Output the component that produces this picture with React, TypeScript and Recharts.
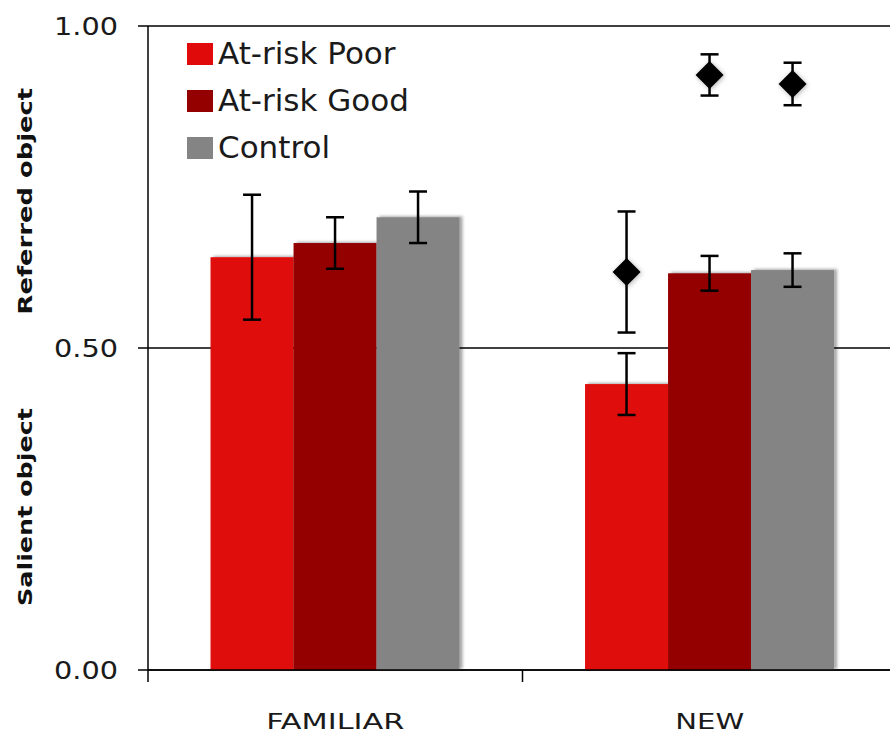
import React from 'react';
import { BarChart, Bar, XAxis, YAxis, CartesianGrid, ErrorBar, Legend } from 'recharts';

const groups = ['FAMILIAR', 'NEW'];
const groupLabelWidths = [141, 69];
const seriesNames = ['At-risk Poor', 'At-risk Good', 'Control'];

const poor = [0.641, 0.444];
const poorErr = [0.097, 0.048];
const good = [0.663, 0.616];
const goodErr = [0.04, 0.027];
const control = [0.703, 0.621];
const controlErr = [0.04, 0.026];

// black diamonds, only measured for NEW
const poorDia = [null, 0.618];
const poorDiaErr = [null, 0.094];
const goodDia = [null, 0.924];
const goodDiaErr = [null, 0.032];
const controlDia = [null, 0.91];
const controlDiaErr = [null, 0.033];

const yTicks = [0, 0.5, 1];

const COLORS = { poor: '#e00a0a', good: '#940000', control: '#848484' };
const FONT = '"DejaVu Sans", Verdana, sans-serif';

const data = groups.map((g, i) => ({
  group: g,
  poor: poor[i],
  poorErr: poorErr[i],
  good: good[i],
  goodErr: goodErr[i],
  control: control[i],
  controlErr: controlErr[i],
  poorDia: poorDia[i],
  poorDiaErr: poorDiaErr[i],
  goodDia: goodDia[i],
  goodDiaErr: goodDiaErr[i],
  controlDia: controlDia[i],
  controlDiaErr: controlDiaErr[i],
}));

const ShadowBar = (props: any) => {
  const { x, y, width, height, fill } = props;
  if (!height || height <= 0) return <g />;
  return <rect x={x} y={y} width={width} height={height} fill={fill} filter="url(#barShadow)" />;
};

const diamondShape = (key: string) => (props: any) => {
  const { x, y, width, payload } = props;
  if (payload == null || payload[key] == null) return <g />;
  const cx = x + width / 2;
  const r = 14;
  return (
    <polygon
      points={`${cx},${y - r} ${cx + r},${y} ${cx},${y + r} ${cx - r},${y}`}
      fill="#000"
      filter="url(#dotShadow)"
    />
  );
};

// category label plus tick marks on the category boundaries
const CategoryTick = (props: any) => {
  const { x, y, payload, index } = props;
  const idx = groups.indexOf(payload.value);
  const half = payload.offset || 0;
  const natural = 22 * (payload.value === 'NEW' ? 2.37 : 4.65);
  const sx = groupLabelWidths[idx] / natural;
  return (
    <g>
      <line x1={x - half} x2={x - half} y1={y} y2={y + 12} stroke="#000" strokeWidth={1.5} />
      {index === groups.length - 1 && (
        <line x1={x + half} x2={x + half} y1={y} y2={y + 12} stroke="#000" strokeWidth={1.5} />
      )}
      <text
        transform={`translate(${x}, ${y + 59}) scale(${sx}, 1)`}
        textAnchor="middle"
        fontFamily={FONT}
        fontSize={22}
        fill="#1a1a1a"
      >
        {payload.value}
      </text>
    </g>
  );
};

const ValueTick = (props: any) => {
  const { x, y, payload } = props;
  return (
    <text
      transform={`translate(${x}, ${y + 9}) scale(1.15, 1)`}
      textAnchor="end"
      fontFamily={FONT}
      fontSize={25}
      fill="#1a1a1a"
    >
      {Number(payload.value).toFixed(2)}
    </text>
  );
};

const AxisTitles = (props: any) => {
  const vb = props.viewBox || {};
  const top = vb.y ?? 26;
  const h = vb.height ?? 644;
  const y1 = top + h * (1 - 0.728);
  const y2 = top + h * (1 - 0.253);
  const common = {
    textAnchor: 'middle' as const,
    fontFamily: FONT,
    fontWeight: 700,
    fontSize: 20,
    fill: '#111',
  };
  return (
    <g>
      <text {...common} transform={`translate(32, ${y1}) rotate(-90) scale(1.29, 1)`}>
        Referred object
      </text>
      <text {...common} transform={`translate(32, ${y2}) rotate(-90) scale(1.27, 1)`}>
        Salient object
      </text>
    </g>
  );
};

const renderLegend = (props: any) => {
  const items = (props.payload || [])
    .filter((p: any) => p.type !== 'none')
    .sort((a: any, b: any) => seriesNames.indexOf(a.value) - seriesNames.indexOf(b.value));
  return (
    <div style={{ fontFamily: FONT }}>
      {items.map((p: any) => (
        <div key={p.value} style={{ display: 'flex', alignItems: 'center', height: 47 }}>
          <span style={{ display: 'inline-block', width: 26, height: 22, background: p.color, marginRight: 5 }} />
          <span style={{ fontSize: 31, color: '#1a1a1a', lineHeight: '47px' }}>{p.value}</span>
        </div>
      ))}
    </div>
  );
};

export default function App() {
  return (
    <div style={{ position: 'absolute', left: 0, top: 0, width: 890, height: 735, overflow: 'hidden', background: '#fff' }}>
      <svg width={0} height={0} style={{ position: 'absolute' }}>
        <defs>
          <filter id="barShadow" x="-20%" y="-20%" width="140%" height="140%">
            <feDropShadow dx={3} dy={-1} stdDeviation={1.6} floodColor="#000" floodOpacity={0.35} />
          </filter>
          <filter id="dotShadow" x="-50%" y="-50%" width="200%" height="200%">
            <feDropShadow dx={1} dy={1} stdDeviation={2.5} floodColor="#000" floodOpacity={0.3} />
          </filter>
        </defs>
      </svg>
      <BarChart
        width={905}
        height={735}
        data={data}
        margin={{ top: 26, right: 8, bottom: 0, left: 0 }}
        barCategoryGap="16.7%"
        barGap={0}
      >
        <CartesianGrid vertical={false} stroke="#000" strokeWidth={1.5} />
        <XAxis
          xAxisId="cat"
          dataKey="group"
          height={65}
          axisLine={{ stroke: '#000', strokeWidth: 1.5 }}
          tickLine={false}
          tickSize={0}
          tickMargin={0}
          tick={<CategoryTick />}
        />
        <XAxis xAxisId="dia" dataKey="group" hide height={0} />
        <YAxis
          domain={[0, 1]}
          ticks={yTicks}
          width={148}
          axisLine={{ stroke: '#000', strokeWidth: 1.5 }}
          tickLine={{ stroke: '#000', strokeWidth: 1.5 }}
          tickSize={10}
          tickMargin={20}
          tick={<ValueTick />}
          label={{ content: (p: any) => <AxisTitles {...p} /> }}
        />
        <Legend
          layout="vertical"
          align="center"
          verticalAlign="middle"
          content={renderLegend}
          wrapperStyle={{ left: 187, top: 30, right: 'auto', bottom: 'auto', width: 'auto' }}
        />
        <Bar xAxisId="cat" dataKey="poor" name="At-risk Poor" fill={COLORS.poor} shape={ShadowBar} isAnimationActive={false}>
          <ErrorBar dataKey="poorErr" width={9} strokeWidth={2.5} stroke="#000" direction="y" />
        </Bar>
        <Bar xAxisId="cat" dataKey="good" name="At-risk Good" fill={COLORS.good} shape={ShadowBar} isAnimationActive={false}>
          <ErrorBar dataKey="goodErr" width={9} strokeWidth={2.5} stroke="#000" direction="y" />
        </Bar>
        <Bar xAxisId="cat" dataKey="control" name="Control" fill={COLORS.control} shape={ShadowBar} isAnimationActive={false}>
          <ErrorBar dataKey="controlErr" width={9} strokeWidth={2.5} stroke="#000" direction="y" />
        </Bar>
        <Bar xAxisId="dia" dataKey="poorDia" legendType="none" fill="transparent" shape={diamondShape('poorDia')} isAnimationActive={false}>
          <ErrorBar dataKey="poorDiaErr" width={9} strokeWidth={2.5} stroke="#000" direction="y" />
        </Bar>
        <Bar xAxisId="dia" dataKey="goodDia" legendType="none" fill="transparent" shape={diamondShape('goodDia')} isAnimationActive={false}>
          <ErrorBar dataKey="goodDiaErr" width={9} strokeWidth={2.5} stroke="#000" direction="y" />
        </Bar>
        <Bar xAxisId="dia" dataKey="controlDia" legendType="none" fill="transparent" shape={diamondShape('controlDia')} isAnimationActive={false}>
          <ErrorBar dataKey="controlDiaErr" width={9} strokeWidth={2.5} stroke="#000" direction="y" />
        </Bar>
      </BarChart>
    </div>
  );
}
